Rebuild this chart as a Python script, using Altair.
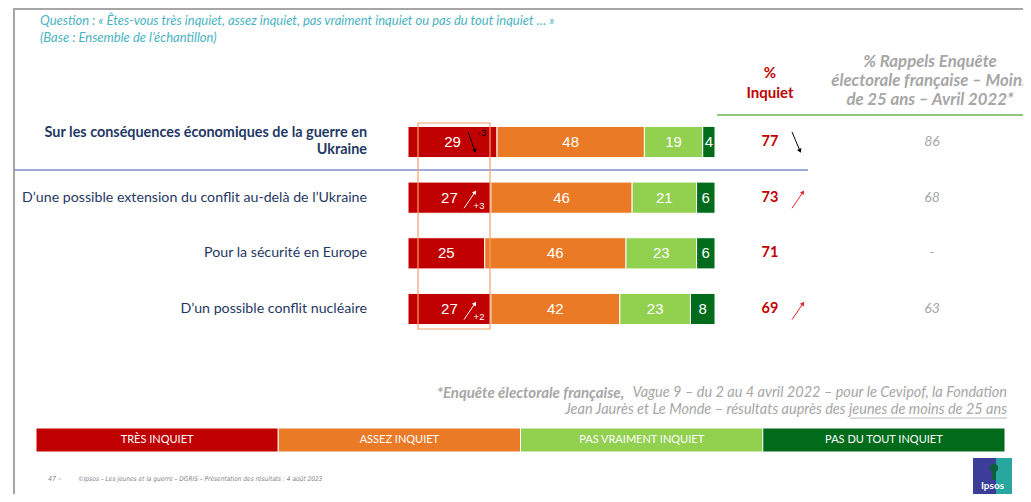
import altair as alt
import pandas as pd

# ---------------- data ----------------
categories = [
    "Sur les conséquences économiques de la guerre en\nUkraine",
    "D’une possible extension du conflit au-delà de l’Ukraine",
    "Pour la sécurité en Europe",
    "D’un possible conflit nucléaire",
]
tres_inquiet = [29, 27, 25, 27]
assez_inquiet = [48, 46, 46, 42]
pas_vraiment = [19, 21, 23, 23]
pas_du_tout = [4, 6, 6, 8]
pct_inquiet = [77, 73, 71, 69]
rappels = ["86", "68", "-", "63"]
evolution = ["-3", "+3", "", "+2"]
series = ["Très inquiet", "Assez inquiet", "Pas vraiment inquiet", "Pas du tout inquiet"]
legend_labels = ["TRÈS INQUIET", "ASSEZ INQUIET", "PAS VRAIMENT INQUIET", "PAS DU TOUT INQUIET"]
colors = ["#c00000", "#ea7a26", "#92d050", "#006b1b"]

rows = []
for i, cat in enumerate(categories):
    for j, vals in enumerate([tres_inquiet, assez_inquiet, pas_vraiment, pas_du_tout]):
        rows.append({"idx": i, "cat": cat, "series": series[j], "order": j, "value": vals[i]})
bars_df = pd.DataFrame(rows)

rows_df = pd.DataFrame({"idx": list(range(len(categories))), "cat": categories,
                        "inquiet": pct_inquiet, "rappel": rappels, "evo": evolution})
evo_df = rows_df[rows_df["evo"] != ""].copy()
evo_df["sign"] = [1 if e.startswith("+") else -1 for e in evo_df["evo"]]

legend_df = pd.DataFrame({"series": series, "label": legend_labels,
                          "lo": list(range(4)), "hi": [i + 1 for i in range(4)]})

dummy = pd.DataFrame({"d": [0]})

# ---------------- scales ----------------
X = alt.Scale(domain=[0, 100], range=[400, 707])
Y = alt.Scale(domain=[0, 3], range=[134, 301])
LX = alt.Scale(domain=[0, 4], range=[28, 997])
C = alt.Scale(domain=series, range=colors)

TXT = "Lato"
NUM = "Liberation Sans"


def txt(text, x, y, **kw):
    return alt.Chart(dummy).mark_text(text=text, **kw).encode(x=alt.value(x), y=alt.value(y))


def rule(x, y, x2, y2, color, w=1.0):
    return alt.Chart(dummy).mark_rule(color=color, strokeWidth=w).encode(
        x=alt.value(x), y=alt.value(y), x2=alt.value(x2), y2=alt.value(y2))


layers = []

# frame
layers.append(rule(6, 1, 1015, 1, "#a6a6a6", 2))
layers.append(rule(6, 0, 6, 486, "#a6a6a6", 2))

# title
layers.append(txt("Question : « Êtes-vous très inquiet, assez inquiet, pas vraiment inquiet ou pas du tout inquiet … »",
                  32, 13, align="left", baseline="middle", font=TXT, fontSize=13, fontStyle="italic", color="#4ab3c2"))
layers.append(txt("(Base : Ensemble de l’échantillon)",
                  32, 30, align="left", baseline="middle", font=TXT, fontSize=13, fontStyle="italic", color="#4ab3c2"))

# column headers
layers.append(txt("%\nInquiet", 762, 65, lineBreak="\n", lineHeight=20, align="center", baseline="middle",
                  font=TXT, fontSize=15, fontWeight="bold", color="#c00000"))
layers.append(txt("% Rappels Enquête\nélectorale française – Moins\nde 25 ans – Avril 2022*", 922, 54,
                  lineBreak="\n", lineHeight=19, align="center", baseline="middle",
                  font=TXT, fontSize=16.8, fontWeight="bold", fontStyle="italic", color="#a6a6a6"))
layers.append(rule(709, 107, 1015, 107, "#6cb555", 1.5))
layers.append(rule(6, 162, 800, 162, "#7f8fc9", 1.5))

# stacked bars
base = alt.Chart(bars_df).transform_stack(
    stack="value", as_=["x0", "x1"], groupby=["idx"], sort=[alt.SortField("order", order="ascending")]
).transform_calculate(yt="datum.idx - 0.28", yb="datum.idx + 0.28", xm="(datum.x0 + datum.x1) / 2")

layers.append(base.mark_rect(stroke="white", strokeWidth=1).encode(
    x=alt.X("x0:Q", scale=X, axis=None), x2="x1:Q",
    y=alt.Y("yt:Q", scale=Y, axis=None), y2="yb:Q",
    color=alt.Color("series:N", scale=C, legend=None)))
layers.append(base.mark_text(color="white", font=NUM, fontSize=15, baseline="middle").encode(
    x=alt.X("xm:Q", scale=X, axis=None),
    y=alt.Y("idx:Q", scale=Y, axis=None),
    text="value:Q"))

# category labels
lab = alt.Chart(rows_df)
layers.append(lab.transform_filter("datum.idx == 0").transform_calculate(ly="datum.idx - 0.16").mark_text(
    align="right", baseline="middle", lineBreak="\n", lineHeight=17, font=TXT, fontSize=14.4,
    fontWeight="bold", color="#1f3864").encode(
    x=alt.value(359), y=alt.Y("ly:Q", scale=Y, axis=None), text="cat:N"))
layers.append(lab.transform_filter("datum.idx > 0").mark_text(
    align="right", baseline="middle", font=TXT, fontSize=14.2, color="#1f3864").encode(
    x=alt.value(359), y=alt.Y("idx:Q", scale=Y, axis=None), text="cat:N"))

# % inquiet and rappels columns
layers.append(lab.mark_text(align="center", baseline="middle", font=TXT, fontSize=14.5, fontWeight="bold",
                            color="#c00000").encode(
    x=alt.value(762), y=alt.Y("idx:Q", scale=Y, axis=None), text="inquiet:Q"))
layers.append(lab.mark_text(align="center", baseline="middle", font=TXT, fontSize=14, fontStyle="italic",
                            color="#a6a6a6").encode(
    x=alt.value(924), y=alt.Y("idx:Q", scale=Y, axis=None), text="rappel:N"))

# evolution arrows
ev = alt.Chart(evo_df).transform_calculate(
    up_t="datum.idx + 0.19", up_h="datum.idx - 0.10",
    dn_t="datum.idx - 0.18", dn_h="datum.idx + 0.16",
    lab_up="datum.idx + 0.15", lab_dn="datum.idx - 0.16")
up = ev.transform_filter("datum.sign > 0")
dn = ev.transform_filter("datum.sign < 0")


def arrow(src, tail_field, head_field, xt, xh, color, angle, w=1.0):
    return [
        src.mark_rule(color=color, strokeWidth=w).encode(
            x=alt.value(xt), x2=alt.value(xh),
            y=alt.Y(f"{tail_field}:Q", scale=Y, axis=None), y2=f"{head_field}:Q"),
        src.mark_point(shape="triangle-up", filled=True, size=22, opacity=1, color=color, angle=angle).encode(
            x=alt.value(xh), y=alt.Y(f"{head_field}:Q", scale=Y, axis=None)),
    ]


layers += arrow(up, "up_t", "up_h", 456, 467, "white", 34)
layers += arrow(dn, "dn_t", "dn_h", 460, 467, "black", 160)
layers.append(up.mark_text(align="center", baseline="middle", font=NUM, fontSize=9.5, color="white").encode(
    x=alt.value(471), y=alt.Y("lab_up:Q", scale=Y, axis=None), text="evo:N"))
layers.append(dn.mark_text(align="center", baseline="middle", font=NUM, fontSize=9.5, color="black").encode(
    x=alt.value(474), y=alt.Y("lab_dn:Q", scale=Y, axis=None), text="evo:N"))
layers += arrow(up, "up_t", "up_h", 784, 795, "#e0262b", 34)
layers += arrow(dn, "dn_t", "dn_h", 784, 792, "black", 157)

# highlight box
layers.append(alt.Chart(dummy).mark_rect(fill=None, fillOpacity=0, stroke="#f4a06a", strokeWidth=1.2).encode(
    x=alt.value(410), x2=alt.value(482), y=alt.value(115), y2=alt.value(321)))

# footnote
layers.append(txt("*Enquête électorale française,", 429, 385, align="left", baseline="middle", font=TXT,
                  fontSize=15, fontWeight="bold", fontStyle="italic", color="#a6a6a6"))
layers.append(txt("Vague 9 – du 2 au 4 avril 2022 – pour le Cevipof, la Fondation", 999, 385, align="right",
                  baseline="middle", font=TXT, fontSize=14.5, fontStyle="italic", color="#a6a6a6"))
layers.append(txt("Jean Jaurès et Le Monde – résultats auprès des jeunes de moins de 25 ans", 999, 402,
                  align="right", baseline="middle", font=TXT, fontSize=14.5, fontStyle="italic", color="#a6a6a6"))
layers.append(rule(842, 410, 999, 410, "#a6a6a6", 0.8))

# legend band
lg = alt.Chart(legend_df).transform_calculate(mid="datum.lo + 0.5")
layers.append(lg.mark_rect(stroke="white", strokeWidth=1).encode(
    x=alt.X("lo:Q", scale=LX, axis=None), x2="hi:Q",
    y=alt.value(420), y2=alt.value(444),
    color=alt.Color("series:N", scale=C, legend=None)))
layers.append(lg.mark_text(align="center", baseline="middle", font=TXT, fontSize=11, color="white").encode(
    x=alt.X("mid:Q", scale=LX, axis=None), y=alt.value(432), text="label:N"))

# footer
FOOT = "DejaVu Sans Condensed, Liberation Sans, sans-serif"
layers.append(txt("47 –", 40, 471, align="left", baseline="middle", font=FOOT,
                  fontSize=7, fontStyle="italic", color="#7f7f7f"))
layers.append(txt("©Ipsos – Les jeunes et la guerre – DGRIS – Présentation des résultats : 4 août 2023", 70, 471,
                  align="left", baseline="middle", font=FOOT, fontSize=6.5, fontStyle="italic",
                  color="#7f7f7f"))

# logo
layers.append(alt.Chart(dummy).mark_rect(color="#3b3d98").encode(
    x=alt.value(965), x2=alt.value(988), y=alt.value(450), y2=alt.value(486)))
layers.append(alt.Chart(dummy).mark_rect(color="#27a79f").encode(
    x=alt.value(988), x2=alt.value(1004), y=alt.value(450), y2=alt.value(486)))
layers.append(alt.Chart(dummy).mark_point(shape="circle", filled=True, size=70, opacity=1, color="#0d5e3a").encode(
    x=alt.value(986), y=alt.value(460)))
layers.append(alt.Chart(dummy).mark_rect(color="#0d5e3a").encode(
    x=alt.value(984), x2=alt.value(988), y=alt.value(460), y2=alt.value(472)))
layers.append(txt("Ipsos", 984.5, 478, align="center", baseline="middle", font=TXT, fontSize=10,
                  fontWeight="bold", color="white"))

chart = alt.layer(*layers).resolve_scale(x="independent").properties(
    width=1015, height=486, padding=0, autosize=alt.AutoSizeParams(type="none")
).configure_view(stroke=None)

chart.save("out.html", embed_options={"renderer": "svg", "actions": False})
